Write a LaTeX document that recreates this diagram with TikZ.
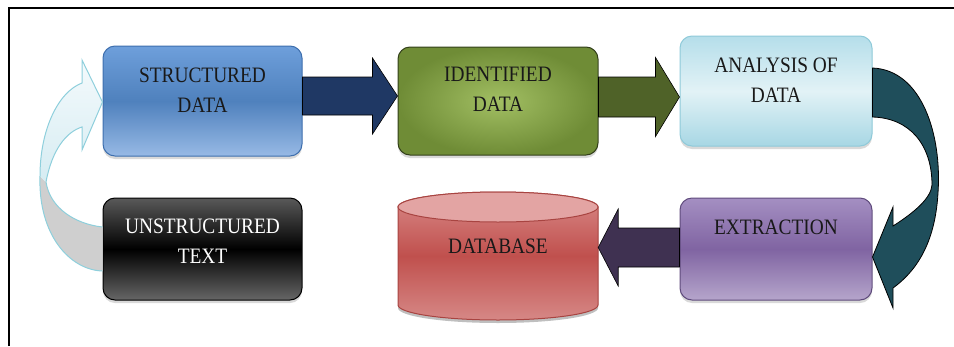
\documentclass[tikz,border=0pt]{standalone}
\usepackage{fontspec}
\setmainfont{Liberation Serif}[FakeStretch=0.88]
\usetikzlibrary{calc,shadows}

\definecolor{structtop}{HTML}{6E9FDB}
\definecolor{structmid}{HTML}{4F81BD}
\definecolor{structbot}{HTML}{97B9E5}
\definecolor{structline}{HTML}{3E6FAE}
\definecolor{identin}{HTML}{A2BF63}
\definecolor{identout}{HTML}{6F8C36}
\definecolor{identline}{HTML}{33401A}
\definecolor{anatop}{HTML}{B5DEEA}
\definecolor{anamid}{HTML}{E2F2F6}
\definecolor{anabot}{HTML}{A7D7E4}
\definecolor{analine}{HTML}{8FCAD9}
\definecolor{extrtop}{HTML}{A48FC2}
\definecolor{extrmid}{HTML}{8064A2}
\definecolor{extrbot}{HTML}{B5A5CB}
\definecolor{extrline}{HTML}{5F4B7C}
\definecolor{dbcap}{HTML}{E3A4A3}
\definecolor{dbtop}{HTML}{D98A89}
\definecolor{dbmid}{HTML}{C0504D}
\definecolor{dbbot}{HTML}{D68886}
\definecolor{dbline}{HTML}{A84441}
\definecolor{navyarrow}{HTML}{1F3864}
\definecolor{olivearrow}{HTML}{4F6228}
\definecolor{plumarrow}{HTML}{3F3151}
\definecolor{tealarrow}{HTML}{1F4E5B}
\definecolor{paleline}{HTML}{8ECFDC}
\definecolor{paletop}{HTML}{F4FAFC}
\definecolor{palebot}{HTML}{D6ECF2}
\definecolor{palegray}{HTML}{CFCFCF}

\tikzset{
  box/.style={rectangle, rounded corners=12pt, inner sep=0pt, line width=1pt,
    drop shadow={shadow xshift=0pt, shadow yshift=-3pt, opacity=0.3}},
  lbl/.style={align=center, inner sep=0pt, font=\fontsize{22}{30}\selectfont, text=black!90},
  blockarrow/.style n args={3}{draw=black, line width=0.6pt,
    to path={let \p1=(\tikztostart), \p2=(\tikztotarget),
      \n1={(\x2-\x1)/abs(\x2-\x1)} in
      (\x1,\y1+#1) -- (\x2-\n1*#3,\y1+#1) -- (\x2-\n1*#3,\y1+#2) -- (\x2,\y1)
      -- (\x2-\n1*#3,\y1-#2) -- (\x2-\n1*#3,\y1-#1) -- (\x1,\y1-#1) -- cycle}},
  capradius/.style={x radius=100pt, y radius=15pt},
}

\begin{document}
\begin{tikzpicture}[x=1pt,y=-1pt]
    \useasboundingbox (0,0) rectangle (954,346);
    \draw[line width=1.2pt] (9,346) -- (9,8) -- (954,8);

    % boxes
    \node[box, draw=structline, top color=structtop, bottom color=structbot, middle color=structmid,
      minimum width=199pt, minimum height=110pt] (struct) at (202.5,101) {};
    \node[box, draw=black, top color=black!65, bottom color=black!60, middle color=black,
      minimum width=199pt, minimum height=102pt] (unstruct) at (202.5,249) {};
    \node[box, draw=identline, inner color=identin, outer color=identout,
      minimum width=200pt, minimum height=108pt] (ident) at (498,101) {};
    \node[box, draw=analine, top color=anatop, bottom color=anabot, middle color=anamid,
      minimum width=192pt, minimum height=110pt] (analysis) at (776,91) {};
    \node[box, draw=extrline, top color=extrtop, bottom color=extrbot, middle color=extrmid,
      minimum width=192pt, minimum height=102pt] (extract) at (776,249) {};

    % database drum
    \node[inner sep=0pt, minimum width=200pt, minimum height=128pt] (db) at (498,256) {};
    \fill[black, opacity=0.25] (398,211) -- (398,308) arc[start angle=180, end angle=360, capradius]
      -- (598,211) -- cycle;
    \shade[draw=dbline, line width=1pt, top color=dbtop, bottom color=dbbot, middle color=dbmid]
      (398,207) -- (398,305) arc[start angle=180, end angle=360, capradius]
      -- (598,207) arc[start angle=0, end angle=180, capradius] -- cycle;
    \draw[dbline, line width=1pt, fill=dbcap] (498,207) ellipse[capradius];

    % labels
    \node[lbl] (structtxt) at ([yshift=10.5pt]struct.center) {STRUCTURED\\DATA};
    \node[lbl, text=white] (unstructtxt) at ([yshift=7.5pt]unstruct.center) {UNSTRUCTURED\\TEXT};
    \node[lbl] (identtxt) at ([yshift=12pt]ident.center) {IDENTIFIED\\DATA};
    \node[lbl] (analysistxt) at ([yshift=11pt]analysis.center) {ANALYSIS OF\\DATA};
    \node[lbl] (extracttxt) at ([yshift=21.5pt]extract.center) {EXTRACTION};
    \node[lbl] (dbtxt) at ([yshift=10pt]db.center) {DATABASE};

    % straight arrows
    \draw[blockarrow={19pt}{38pt}{25pt}, fill=navyarrow] ([yshift=5pt]struct.east) to ([yshift=5pt]ident.west);
    \draw[blockarrow={20pt}{39.5pt}{24pt}, fill=olivearrow] ([yshift=4pt]ident.east) to ([yshift=4pt]analysis.west);
    \draw[blockarrow={19.5pt}{38.5pt}{20pt}, fill=plumarrow] ([yshift=1.5pt]extract.west) to ([yshift=1.5pt]db.east);

    % curved arrow on the right
    \draw[fill=tealarrow, line width=0.8pt] ([yshift=23pt]analysis.east)
      .. controls (922,70) and (942,135) .. (938,193)
      .. controls (935,245) and (915,272) .. (893,288) -- (893,308)
      -- ([yshift=-8pt]extract.east) -- (893,207) -- (893,226)
      .. controls (915,212) and (931,198) .. (932,185)
      .. controls (932,145) and (910,118) .. ([yshift=-26pt]analysis.east) -- cycle;

    % curved arrow on the left
    \fill[palegray] ([yshift=22pt]unstruct.west)
      .. controls (75,224) and (50,208) .. (46,182) -- (40,176)
      .. controls (38,235) and (70,270) .. ([yshift=-22pt]unstruct.west) -- cycle;
    \shade[top color=paletop, bottom color=palebot] (46,182)
      .. controls (52,150) and (66,132) .. (82,127) -- (82,150)
      -- ([yshift=-1pt]struct.west) -- (82,60) -- (82,83)
      .. controls (58,92) and (40,130) .. (40,176) -- cycle;
    \draw[paleline, line width=1pt] ([yshift=22pt]unstruct.west)
      .. controls (75,224) and (50,208) .. (46,182)
      .. controls (52,150) and (66,132) .. (82,127) -- (82,150)
      -- ([yshift=-1pt]struct.west) -- (82,60) -- (82,83)
      .. controls (58,92) and (40,130) .. (40,176)
      .. controls (38,235) and (70,270) .. ([yshift=-22pt]unstruct.west);
\end{tikzpicture}
\end{document}
